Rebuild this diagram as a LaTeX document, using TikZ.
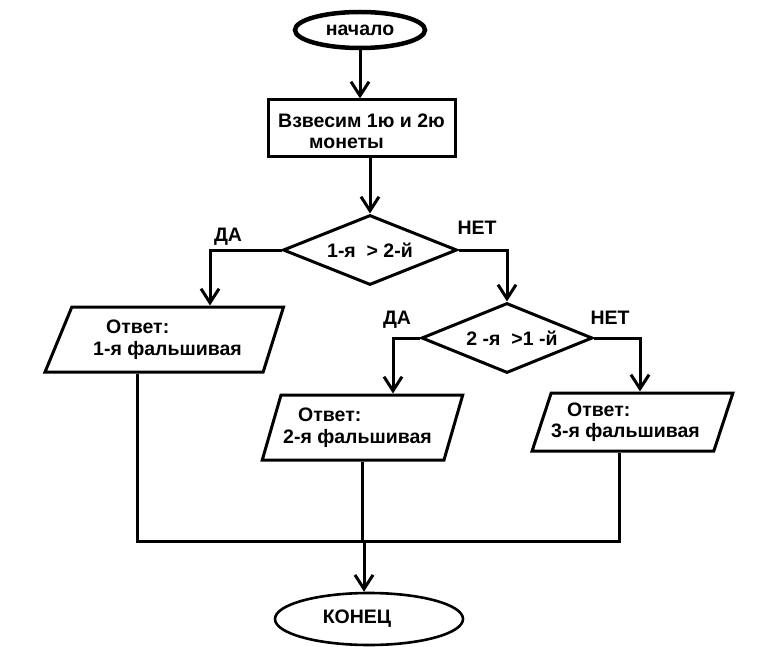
\documentclass[tikz,border=0pt]{standalone}
\usepackage{fontspec}
\setmainfont{Liberation Sans}
\usetikzlibrary{shapes.geometric,arrows.meta,calc}
\begin{document}
\begin{tikzpicture}[x=1pt,y=-1pt,
  every node/.style={font=\bfseries\fontsize{19.5}{21.5}\selectfont, inner sep=0pt},
  ln/.style={line width=3pt},
  arr/.style={ln, -{Straight Barb[length=14pt,width=18pt]}},
  term/.style={ellipse, draw, line width=2.6pt},
  proc/.style={rectangle, draw, line width=3pt, align=left},
  dec/.style={diamond, draw, line width=3pt, aspect=2.5},
  io/.style={trapezium, draw, line width=3pt, align=left, trapezium stretches=true},
  lab/.style={}]
\fill[white] (0,0) rectangle (779,647);
\useasboundingbox (0,0) rectangle (779,647);

\node[term, line width=4.5pt, minimum width=130pt, minimum height=36pt] (e1) at (360,30) {начало};
\node[proc, minimum width=187pt, minimum height=57pt] (r1) at (361.5,128.5) {\rule{0pt}{19pt}Взвесим 1ю и 2ю\\\hspace*{31pt}монеты};
\node[dec, minimum width=174pt, minimum height=70pt] (d1) at (370,250) {1-я\ \ > 2-й};
\node[dec, minimum width=171pt, minimum height=70pt] (d2) at (507,338) {\hspace*{10pt}2 -я\ \ >1 -й};
\node[io, trapezium left angle=62, trapezium right angle=112, minimum width=239pt, minimum height=65pt] (p1) at (167.5,339.5) {\hspace*{13pt}Ответ:\\1-я фальшивая};
\node[io, trapezium left angle=65, trapezium right angle=115, minimum width=201pt, minimum height=65pt] (p2) at (362.5,427.5) {\hspace*{15pt}Ответ:\\2-я фальшивая\hspace*{10pt}};
\node[io, trapezium left angle=64, trapezium right angle=116, minimum width=195pt, minimum height=58pt] (p3) at (632.5,422) {\hspace*{16pt}Ответ:\\3-я фальшивая\hspace*{14pt}};
\node[term, minimum width=188pt, minimum height=52pt] (e2) at (369,619) {\hspace*{-24pt}КОНЕЦ};

\node[lab] (l1) at (228,237) {ДА};
\node[lab] (l2) at (477,228) {НЕТ};
\node[lab] (l3) at (397,320) {ДА};
\node[lab] (l4) at (610,318) {НЕТ};

\coordinate (c1) at (210,0);
\coordinate (c2) at (393,0);
\coordinate (c3) at (640,0);
\coordinate (m1) at (137,541);
\coordinate (m2) at (364,541);
\coordinate (m3) at (619,541);

\draw[arr] (e1.south) -- (e1.south |- r1.north);
\draw[arr] (d1.north |- r1.south) -- (d1.north);
\draw[arr] (d1.west) -| (c1 |- p1.north);
\draw[arr] (d1.east) -| (d2.north);
\draw[arr] (d2.west) -| (c2 |- p2.north);
\draw[arr] (d2.east) -| (c3 |- p3.north);
\draw[ln] (m1 |- p1.south) -- (m1) -- (m3) -- (m3 |- p3.south);
\draw[ln] (p2.south) -- (p2.south |- m1);
\draw[arr] (m2) -- (m2 |- e2.north);
\end{tikzpicture}
\end{document}
